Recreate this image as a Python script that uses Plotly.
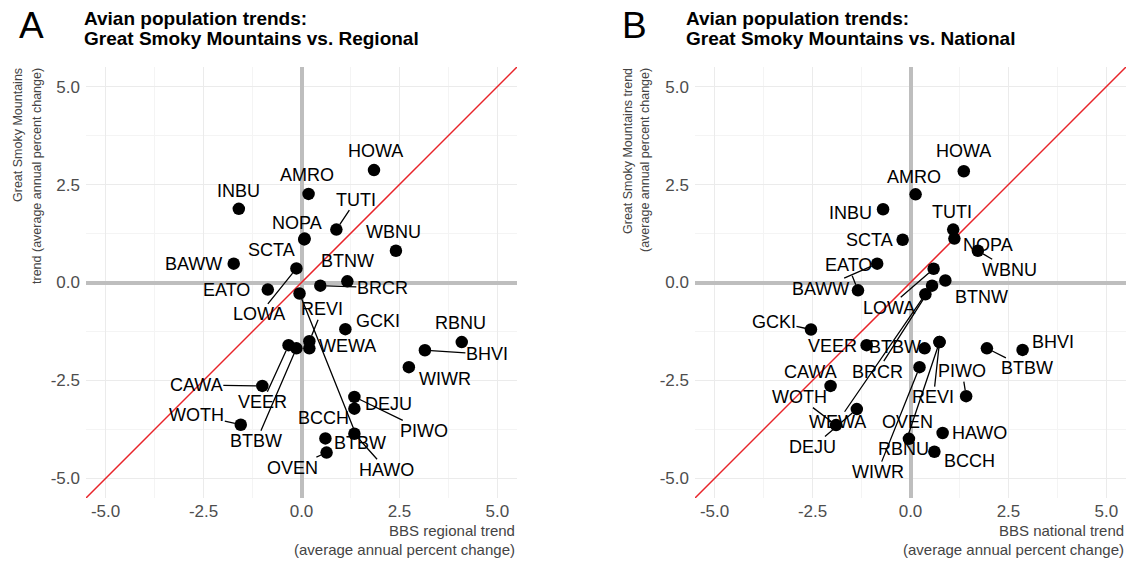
import plotly.graph_objects as go

# ---- Panel A: GSM trend vs BBS regional trend ----
species_a = ["HOWA", "AMRO", "INBU", "TUTI", "NOPA", "SCTA", "WBNU", "BAWW",
             "LOWA", "BTNW", "BRCR", "EATO", "BTBW", "REVI", "GCKI", "RBNU",
             "BHVI", "WEWA", "VEER", "BTBW", "WIWR", "CAWA", "WOTH", "PIWO",
             "DEJU", "HAWO", "BCCH", "OVEN"]
regional_x = [1.85, 0.18, -1.60, 0.89, 0.08, 0.07, 2.41, -1.73,
              -0.13, 1.17, 0.48, -0.86, -0.05, 0.20, 1.12, 4.09,
              3.15, 0.20, -0.33, -0.13, 2.74, -1.00, -1.55, 1.35,
              1.35, 1.35, 0.61, 0.64]
gsm_a = [2.87, 2.26, 1.88, 1.35, 1.12, 1.10, 0.81, 0.48,
         0.36, 0.03, -0.08, -0.18, -0.28, -1.50, -1.19, -1.52,
         -1.73, -1.68, -1.60, -1.68, -2.16, -2.64, -3.63, -2.92,
         -3.22, -3.86, -3.98, -4.34]

# ---- Panel B: GSM trend vs BBS national trend ----
species_b = ["HOWA", "AMRO", "INBU", "TUTI", "NOPA", "SCTA", "WBNU", "BAWW",
             "EATO", "LOWA", "BTNW", "BRCR", "WEWA", "GCKI", "VEER", "BTBW",
             "REVI", "RBNU", "BTBW", "BHVI", "WIWR", "PIWO", "CAWA", "WOTH",
             "DEJU", "OVEN", "HAWO", "BCCH"]
national_x = [1.36, 0.13, -0.70, 1.09, 1.12, -0.20, 1.72, -0.85,
              -1.34, 0.59, 0.89, 0.55, 0.38, -2.54, -1.12, 0.36,
              0.74, 0.74, 1.95, 2.86, 0.23, 1.42, -2.04, -1.90,
              -1.37, -0.04, 0.82, 0.61]
gsm_b = [2.84, 2.25, 1.87, 1.35, 1.12, 1.09, 0.81, 0.48,
         -0.20, 0.35, 0.05, -0.08, -0.30, -1.20, -1.60, -1.68,
         -1.52, -1.52, -1.68, -1.72, -2.16, -2.90, -2.64, -3.64,
         -3.23, -3.99, -3.84, -4.32]

tick_vals = [-5.0, -2.5, 0.0, 2.5, 5.0]
tick_text = ["-5.0", "-2.5", "0.0", "2.5", "5.0"]

# label placement: pixel offset of the label centre from its point,
# and whether a leader segment is drawn
label_offsets_a = [(2, -19, 0), (-2, -19, 0), (0, -18, 0), (20, -30, 1), (-8, -16, 0),
                   (-33, 11, 0), (-2, -19, 0), (-40, 0, 0), (-37, 46, 1), (0, -20, 0),
                   (62, 2, 1), (-41, 0, 0), (60, 150, 1), (13, -32, 1), (33, -8, 0),
                   (-1, -19, 0), (62, 4, 1), (38, -2, 0), (-26, 57, 1), (-40, 93, 1),
                   (36, 12, 0), (-66, -1, 1), (-44, -10, 1), (70, 34, 1), (34, -5, 0),
                   (32, 36, 1), (-2, -20, 0), (-34, 15, 1)]
label_offsets_b = [(0, -20, 0), (-2, -17, 0), (-33, 4, 0), (-1, -18, 0), (34, 6, 0),
                   (-33, 0, 0), (32, 19, 1), (-57, 25, 1), (-10, -25, 1), (-45, 39, 1),
                   (36, 16, 0), (-55, 86, 1), (-88, 128, 1), (-37, -8, 1), (-34, 1, 0),
                   (-30, -1, 0), (-6, 55, 1), (-36, 107, 1), (40, 20, 1), (30, -8, 0),
                   (-42, 105, 1), (-4, -25, 1), (-20, -14, 0), (-37, -28, 1),
                   (-44, 38, 1), (-1, -17, 0), (37, 0, 0), (35, 9, 0)]

FONT = "Liberation Sans, Arial, sans-serif"
LABEL_FONT = dict(family=FONT, size=18, color="#000000")
AXIS_GREY = "#4d4d4d"

fig = go.Figure()

panels = [
    dict(xa="x", ya="y", xs=regional_x, ys=gsm_a, names=species_a, offs=label_offsets_a),
    dict(xa="x2", ya="y2", xs=national_x, ys=gsm_b, names=species_b, offs=label_offsets_b),
]

for p in panels:
    # 1:1 reference line
    fig.add_trace(go.Scatter(x=[-5.5, 5.5], y=[-5.5, 5.5], mode="lines",
                             line=dict(color="#e8242a", width=1.5),
                             xaxis=p["xa"], yaxis=p["ya"], hoverinfo="skip",
                             showlegend=False))
    fig.add_trace(go.Scatter(x=p["xs"], y=p["ys"], mode="markers",
                             marker=dict(color="black", size=12.5),
                             text=p["names"], xaxis=p["xa"], yaxis=p["ya"],
                             showlegend=False))
    for name, xv, yv, (dx, dy, seg) in zip(p["names"], p["xs"], p["ys"], p["offs"]):
        if seg:
            fig.add_annotation(x=xv, y=yv, xref=p["xa"], yref=p["ya"], text=name,
                               showarrow=True, arrowhead=0, arrowwidth=1.3,
                               arrowcolor="black", ax=dx, ay=dy, standoff=6,
                               font=LABEL_FONT, borderpad=0)
        else:
            fig.add_annotation(x=xv, y=yv, xref=p["xa"], yref=p["ya"], text=name,
                               showarrow=False, xshift=dx, yshift=-dy,
                               xanchor="center", yanchor="middle",
                               font=LABEL_FONT, borderpad=0)

W, H = 1130, 562
axis_common = dict(range=[-5.5, 5.5], tickvals=tick_vals, ticktext=tick_text,
                   showgrid=True, gridcolor="#ebebeb", gridwidth=1.1,
                   zeroline=True, zerolinecolor="#bebebe", zerolinewidth=3.5,
                   showline=False, ticks="",
                   tickfont=dict(family=FONT, size=17, color=AXIS_GREY),
                   minor=dict(tick0=-3.75, dtick=2.5, showgrid=True,
                              gridcolor="#f4f4f4", gridwidth=0.7),
                   fixedrange=True)

ya_dom = [1 - 498 / H, 1 - 67 / H]
fig.update_layout(
    width=W, height=H, margin=dict(l=0, r=0, t=0, b=0),
    paper_bgcolor="white", plot_bgcolor="white",
    xaxis=dict(domain=[86 / W, 517 / W], anchor="y", **axis_common),
    yaxis=dict(domain=ya_dom, anchor="x", **axis_common),
    xaxis2=dict(domain=[695 / W, 1126 / W], anchor="y2", **axis_common),
    yaxis2=dict(domain=ya_dom, anchor="x2", **axis_common),
    font=dict(family=FONT),
)
fig.update_xaxes(ticklabelstandoff=1)
fig.update_yaxes(ticklabelstandoff=5)

TITLE_FONT = dict(family=FONT, size=19, color="black")
AX_TITLE_FONT = dict(family=FONT, size=15, color="#444444")
Y_TITLE_FONT = dict(family=FONT, size=12.5, color="#444444")


def paper(xpx, ypx):
    return xpx / W, 1 - ypx / H


def text_at(xpx, ypx, text, font, xanchor="center", yanchor="middle", angle=0):
    x, y = paper(xpx, ypx)
    fig.add_annotation(x=x, y=y, xref="paper", yref="paper", text=text,
                       showarrow=False, xanchor=xanchor, yanchor=yanchor,
                       textangle=angle, font=font)


for tag, tx, line2, xlab, ylab1, ylab2, panel_left, panel_right, ytx in [
    ("A", 31, "Great Smoky Mountains vs. Regional", "BBS regional trend",
     "Great Smoky Mountains", "trend (average annual percent change)", 82, 517, (18, 37)),
    ("B", 634, "Great Smoky Mountains vs. National", "BBS national trend",
     "Great Smoky Mountains trend", "(average annual percent change)", 684, 1126, (628, 645)),
]:
    text_at(tx, 26, tag, dict(family=FONT, size=37, color="black"))
    text_at(panel_left, 18, "<b>Avian population trends:</b>", TITLE_FONT, xanchor="left")
    text_at(panel_left, 38, "<b>" + line2 + "</b>", TITLE_FONT, xanchor="left")
    # x-axis title, right aligned under the panel
    text_at(panel_right, 530, xlab, AX_TITLE_FONT, xanchor="right")
    text_at(panel_right, 549, "(average annual percent change)", AX_TITLE_FONT, xanchor="right")
    # y-axis title, rotated, aligned to the top of the panel
    for txt, xx in [(ylab1, ytx[0]), (ylab2, ytx[1])]:
        text_at(xx, 66, txt, Y_TITLE_FONT, yanchor="top", angle=-90)

fig.write_html("out.html")
